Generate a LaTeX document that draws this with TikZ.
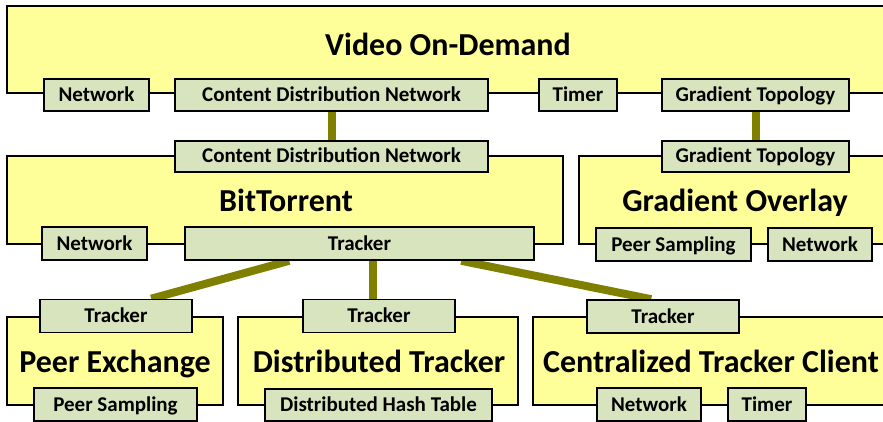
\documentclass[tikz,border=0pt]{standalone}
\usepackage{fontspec}
\setmainfont{Carlito}
\usetikzlibrary{calc}
\definecolor{compfill}{HTML}{FFFF99}
\definecolor{portfill}{HTML}{D7E4BD}
\definecolor{wire}{HTML}{808000}
\pgfdeclarelayer{comps}
\pgfdeclarelayer{wires}
\pgfsetlayers{comps,wires,main}
\tikzset{
  comp/.style={draw=black, line width=1.6pt, fill=compfill},
  port/.style={draw=black, line width=1.6pt, fill=portfill, inner sep=0pt,
    font=\fontsize{21}{24}\selectfont\bfseries,
    text height=13pt, text depth=0pt},
  title/.style={inner sep=0pt, font=\fontsize{32}{36}\selectfont\bfseries,
    text height=20.5pt, text depth=0pt},
  conn/.style={draw=wire, line width=8pt},
}
\begin{document}
\begin{tikzpicture}[x=1pt, y=-1pt]
\useasboundingbox (0,0) rectangle (883,422);
\clip (0,0) rectangle (883,422);

% components
\begin{pgfonlayer}{comps}
\draw[comp] (7,6) rectangle (900,93);
\draw[comp] (7,156) rectangle (563,244);
\draw[comp] (579,156) rectangle (900,244);
\draw[comp] (7,317) rectangle (223,405);
\draw[comp] (238,317) rectangle (518,405);
\draw[comp] (533,317) rectangle (900,405);
\end{pgfonlayer}

\node[title] (vodt) at (448,45) {Video On-Demand};
\node[title] (btt)  at (286,201) {BitTorrent};
\node[title] (got)  at (735,201) {Gradient Overlay};
\node[title] (pet)  at (115,362) {Peer Exchange};
\node[title] (dtt)  at (379,362) {Distributed Tracker};
\node[title] (ctt)  at (711,362) {Centralized Tracker Client};

% ports
\node[port, minimum width=105pt, minimum height=32pt] (vnet) at (96.5,95) {Network};
\node[port, minimum width=313pt, minimum height=32pt] (vcdn) at (331.5,95) {Content Distribution Network};
\node[port, minimum width=78pt,  minimum height=32pt] (vtim) at (578,95) {Timer};
\node[port, minimum width=187pt, minimum height=32pt] (vgt) at (755.5,95) {Gradient Topology};
\node[port, minimum width=313pt, minimum height=31pt] (bcdn) at (331.5,156.5) {Content Distribution Network};
\node[port, minimum width=105pt, minimum height=33pt] (bnet) at (94.5,243.5) {Network};
\node[port, minimum width=349pt, minimum height=33pt] (btr) at (359.5,243.5) {Tracker};
\node[port, minimum width=187pt, minimum height=31pt] (ggt) at (755.5,156.5) {Gradient Topology};
\node[port, minimum width=155pt, minimum height=33pt] (gps) at (673.5,244.5) {Peer Sampling};
\node[port, minimum width=104pt, minimum height=33pt] (gnet) at (820,244.5) {Network};
\node[port, minimum width=152pt, minimum height=33pt] (ptr) at (116,316) {Tracker};
\node[port, minimum width=163pt, minimum height=33pt] (pps) at (115.5,404.5) {Peer Sampling};
\node[port, minimum width=152pt, minimum height=33pt] (dtr) at (379,316) {Tracker};
\node[port, minimum width=227pt, minimum height=32pt] (ddht) at (378.5,405) {Distributed Hash Table};
\node[port, minimum width=152pt, minimum height=33pt] (ctr) at (663,316.5) {Tracker};
\node[port, minimum width=104pt, minimum height=33pt] (cnet) at (649,404.5) {Network};
\node[port, minimum width=78pt,  minimum height=33pt] (ctim) at (767,404.5) {Timer};

% connectors, beneath the ports
\begin{pgfonlayer}{wires}
\draw[conn] (vcdn.south) -- (bcdn.north);
\draw[conn] (vgt.south) -- (ggt.north);
\draw[conn] ($(btr.south west)+(105,0)$) -- ($(ptr.north west)+(112,0)$);
\draw[conn] ($(btr.south west)+(189,0)$) -- ($(dtr.north west)+(71,0)$);
\draw[conn] ($(btr.south west)+(277,0)$) -- ($(ctr.north west)+(65,0)$);
\end{pgfonlayer}
\end{tikzpicture}
\end{document}
